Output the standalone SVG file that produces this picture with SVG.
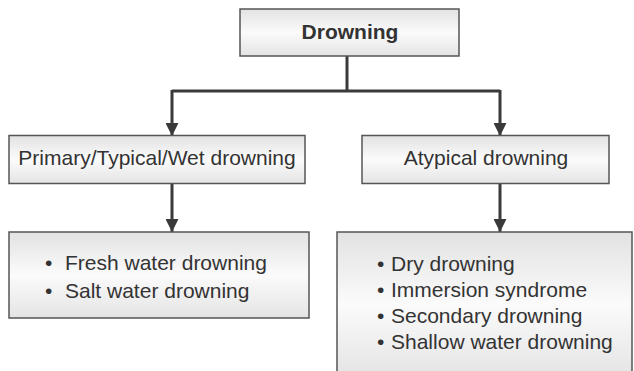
<svg xmlns="http://www.w3.org/2000/svg" width="634" height="371" viewBox="0 0 634 371">
<defs>
<linearGradient id="g" x1="0" y1="0" x2="0" y2="1">
<stop offset="0" stop-color="#e2e2e2"/>
<stop offset="0.5" stop-color="#fbfbfb"/>
<stop offset="1" stop-color="#e4e4e4"/>
</linearGradient>
<marker id="arr" markerWidth="14" markerHeight="13" refX="14" refY="7" orient="auto" markerUnits="userSpaceOnUse" viewBox="0 0 14 14">
<path d="M0,0 L14,7 L0,14 Z" fill="#3a3a3a"/>
</marker>
<style>
.box{fill:url(#g);stroke:#555;stroke-width:1.5}
.t{font-family:"Liberation Sans",Arial,sans-serif;font-size:21px;fill:#333}
.b{font-weight:bold}
.c{text-anchor:middle}
.ln{fill:none;stroke:#3a3a3a;stroke-width:3}
</style>
</defs>
<g id="connectors">
<path class="ln" d="M347,56 V91"/>
<path class="ln" d="M172,91 H500"/>
<path class="ln" d="M172,90 V136" marker-end="url(#arr)"/>
<path class="ln" d="M500,90 V136" marker-end="url(#arr)"/>
<path class="ln" d="M172,183 V232" marker-end="url(#arr)"/>
<path class="ln" d="M500,184 V232" marker-end="url(#arr)"/>
</g>
<g id="drowning">
<rect class="box" x="240" y="9" width="219" height="47"/>
<text class="t b c" x="350" y="39">Drowning</text>
</g>
<g id="primary">
<rect class="box" x="9" y="135.5" width="296" height="48"/>
<text class="t c" x="157" y="165">Primary/Typical/Wet drowning</text>
</g>
<g id="atypical">
<rect class="box" x="362" y="135.5" width="247" height="48"/>
<text class="t c" x="486" y="165">Atypical drowning</text>
</g>
<g id="primary-types">
<rect class="box" x="9" y="232" width="300" height="86"/>
<text class="t"><tspan x="45" y="270">•</tspan><tspan x="65" y="270">Fresh water drowning</tspan></text>
<text class="t"><tspan x="45" y="298">•</tspan><tspan x="65" y="298">Salt water drowning</tspan></text>
</g>
<g id="atypical-types">
<rect class="box" x="337" y="232" width="295" height="145"/>
<text class="t"><tspan x="377" y="271">•</tspan><tspan x="391" y="271">Dry drowning</tspan></text>
<text class="t"><tspan x="377" y="297">•</tspan><tspan x="391" y="297">Immersion syndrome</tspan></text>
<text class="t"><tspan x="377" y="323">•</tspan><tspan x="391" y="323">Secondary drowning</tspan></text>
<text class="t"><tspan x="377" y="349">•</tspan><tspan x="391" y="349">Shallow water drowning</tspan></text>
</g>
</svg>
